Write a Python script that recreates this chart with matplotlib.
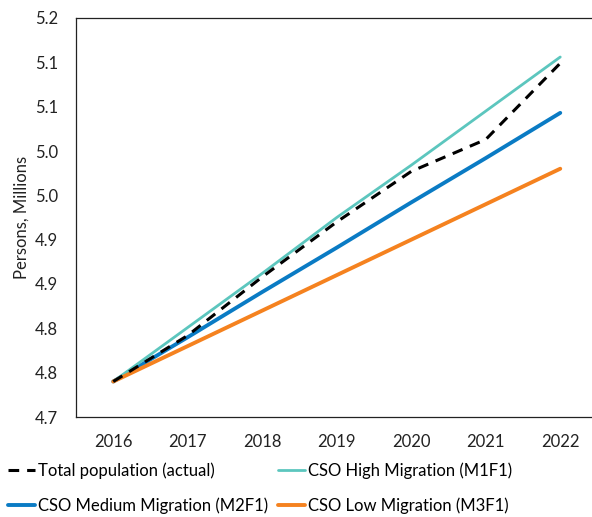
import matplotlib
matplotlib.use("Agg")
import matplotlib.pyplot as plt

years = ["2016", "2017", "2018", "2019", "2020", "2021", "2022"]
actual = [4.740, 4.792, 4.858, 4.920, 4.977, 5.013, 5.099]
high = [4.740, 4.801, 4.862, 4.925, 4.984, 5.045, 5.106]
medium = [4.740, 4.790, 4.841, 4.891, 4.942, 4.992, 5.043]
low = [4.740, 4.780, 4.820, 4.860, 4.900, 4.940, 4.980]
yticks = [4.70, 4.75, 4.80, 4.85, 4.90, 4.95, 5.00, 5.05, 5.10, 5.15]
ytick_labels = ["4.7", "4.8", "4.8", "4.9", "4.9", "5.0", "5.0", "5.1", "5.1", "5.2"]

plt.rcParams['font.family'] = ['Lato', 'DejaVu Sans']

fig = plt.figure(figsize=(5.92, 5.17), dpi=100)
W, H = 592, 517
ax = fig.add_axes([76 / W, (H - 417) / H, (597.5 - 76) / W, (417 - 18) / H])

x = list(range(len(years)))
l_act, = ax.plot(x, actual, color="black", lw=2.2, ls=(0, (3.5, 2.6)), label="Total population (actual)", zorder=5)
l_med, = ax.plot(x, medium, color="#0A7BC4", lw=2.8, label="CSO Medium Migration (M2F1)", solid_capstyle="round")
l_high, = ax.plot(x, high, color="#5CC6BE", lw=2.0, label="CSO High Migration (M1F1)", solid_capstyle="round")
l_low, = ax.plot(x, low, color="#F5821F", lw=2.8, label="CSO Low Migration (M3F1)", solid_capstyle="round")

ax.set_xlim(-0.5, 6.5)
ax.set_ylim(4.70, 5.15)
ax.set_xticks(x)
ax.set_xticklabels(years)
ax.set_yticks(yticks)
ax.set_yticklabels(ytick_labels)
ax.tick_params(axis="both", length=0, labelsize=12, colors="#222222")
ax.tick_params(axis="x", pad=12)
ax.tick_params(axis="y", pad=13)
ax.spines["right"].set_visible(False)
for s in ["left", "top", "bottom"]:
    ax.spines[s].set_linewidth(0.9)
    ax.spines[s].set_color("#222222")
ax.set_ylabel("Persons, Millions", fontsize=12, color="#222222", labelpad=4)

fig.legend(handles=[l_act, l_med, l_high, l_low], loc="lower left",
           bbox_to_anchor=(0.0, -0.01), ncol=2, frameon=False, fontsize=12,
           handlelength=1.6, handletextpad=0.2, columnspacing=0.6,
           labelspacing=1.1, borderaxespad=0.2, borderpad=0.3)

fig.savefig("out.png", dpi=100)
